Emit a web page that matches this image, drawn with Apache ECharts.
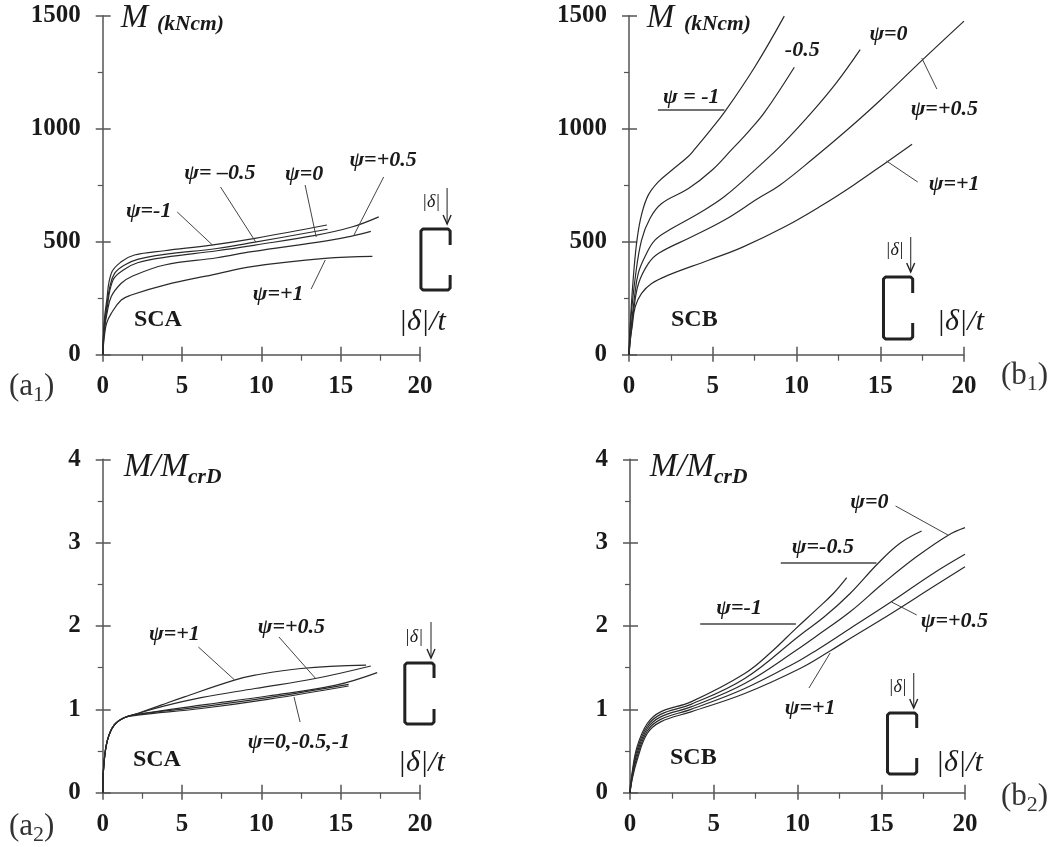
<!DOCTYPE html>
<html><head><meta charset="utf-8">
<script src="https://cdn.jsdelivr.net/npm/echarts@6/dist/echarts.min.js"></script>
<style>html,body{margin:0;padding:0;background:#fff}#main{width:1053px;height:847px}#main canvas{filter:blur(0.35px)}</style>
</head><body><div id="main"></div>
<script>
// Tick labels
var xTicks = [0, 5, 10, 15, 20];
var yTicksTop = [0, 500, 1000, 1500];
var yTicksBottom = [0, 1, 2, 3, 4];

// Panel a1: M (kNcm), SCA
var a1Neg1 = [[0,0],[0.05,90],[0.12,165],[0.23,227],[0.54,360],[1.17,411],[2,441],[3.9,460],[6.85,485],[9.6,515],[14.13,574]];
var a1Neg05 = [[0,0],[0.05,80],[0.12,150],[0.25,215],[0.45,300],[0.75,360],[1.38,397],[2.2,422],[3.9,444],[7.2,470],[9.6,498],[14.17,555]];
var a1Zero = [[0,0],[0.05,70],[0.12,130],[0.25,195],[0.65,330],[1.38,378],[2.2,407],[3.9,431],[7.2,460],[9.6,485],[13.4,528],[15.7,565],[17.4,610]];
var a1Pos05 = [[0,0],[0.05,60],[0.12,115],[0.25,175],[0.54,257],[1.17,316],[1.8,345],[3.9,397],[7.2,429],[9.4,456],[14.1,504],[15.7,525],[16.9,546]];
var a1Pos1 = [[0,0],[0.05,45],[0.12,90],[0.25,140],[0.54,183],[1.17,242],[1.8,264],[3.9,308],[7.2,358],[9.4,390],[14,426],[17,435]];

// Panel b1: M (kNcm), SCB
var b1Neg1 = [[0,0],[0.1,170],[0.3,380],[0.5,520],[0.75,620],[1.15,706],[1.75,765],[2.55,816],[3.55,878],[3.95,912],[4.85,993],[5.7,1073],[7.5,1272],[9.27,1498]];
var b1Neg05 = [[0,0],[0.09,140],[0.38,345],[0.75,507],[1.25,603],[1.95,669],[3.55,735],[4.95,816],[6.1,905],[7.2,993],[8.1,1073],[9.87,1272]];
var b1Zero = [[0,0],[0.1,100],[0.33,256],[0.55,359],[0.95,433],[1.55,507],[2.55,558],[4.15,625],[5.7,700],[7.7,830],[9.2,935],[11,1080],[12.4,1205],[13.8,1350]];
var b1Pos05 = [[0,0],[0.1,80],[0.28,197],[0.57,315],[1.15,403],[1.75,448],[3.75,522],[5.7,596],[7.7,691],[9,750],[11,868],[13,993],[15,1126],[17.6,1310],[20,1476]];
var b1Pos1 = [[0,0],[0.08,70],[0.19,124],[0.37,212],[0.75,271],[1.35,315],[2.35,352],[4.75,418],[6.75,475],[9.3,566],[11.5,660],[13.4,750],[15.4,853],[16.9,931]];

// Panel a2: M/McrD, SCA
var a2Pos1 = [[0,0],[0.08,0.35],[0.3,0.63],[0.72,0.81],[1.35,0.9],[2.2,0.95],[3.67,1.05],[5.15,1.15],[8.3,1.35],[9.6,1.41],[12.5,1.49],[16.6,1.53]];
var a2Pos05 = [[0,0],[0.08,0.35],[0.3,0.63],[0.72,0.81],[1.35,0.9],[2.2,0.95],[3.67,1.03],[6.2,1.14],[9.6,1.25],[13.4,1.37],[16.9,1.52]];
var a2Zero = [[0,0],[0.08,0.35],[0.3,0.63],[0.72,0.81],[1.35,0.9],[2.2,0.94],[6.2,1.05],[10.4,1.16],[14.7,1.29],[17.3,1.44]];
var a2Neg05 = [[0,0],[0.08,0.35],[0.3,0.63],[0.72,0.81],[1.35,0.9],[2.2,0.94],[6.2,1.03],[10.4,1.14],[15.5,1.3]];
var a2Neg1 = [[0,0],[0.08,0.35],[0.3,0.63],[0.72,0.81],[1.35,0.9],[2.2,0.93],[6.2,1.01],[10.4,1.12],[15.5,1.28]];

// Panel b2: M/McrD, SCB
var b2Neg1 = [[0,0],[0.12,0.23],[0.42,0.55],[1.03,0.83],[1.83,0.97],[3.64,1.09],[6.85,1.43],[8.5,1.7],[9.85,1.96],[11.14,2.2],[12.14,2.39],[12.94,2.58]];
var b2Neg05 = [[0,0],[0.12,0.21],[0.42,0.51],[1.03,0.8],[1.83,0.94],[3.64,1.06],[6.85,1.37],[10.15,1.89],[11.6,2.11],[13.14,2.39],[14.8,2.75],[16.1,2.99],[17.41,3.14]];
var b2Zero = [[0,0],[0.12,0.19],[0.42,0.47],[1.03,0.77],[1.83,0.91],[3.64,1.03],[6.85,1.31],[10.15,1.74],[11.14,1.88],[13.14,2.17],[15.1,2.51],[17.1,2.83],[19,3.09],[20,3.18]];
var b2Pos05 = [[0,0],[0.12,0.17],[0.42,0.43],[1.03,0.74],[1.83,0.88],[3.64,1],[6.85,1.25],[10.15,1.59],[11.14,1.71],[13.14,1.97],[15.6,2.29],[18.1,2.63],[20,2.86]];
var b2Pos1 = [[0,0],[0.12,0.15],[0.42,0.39],[1.03,0.71],[1.83,0.85],[3.64,0.97],[6.85,1.19],[10.15,1.49],[11.94,1.7],[13.14,1.85],[15.6,2.15],[18.1,2.47],[20,2.71]];

var SERIF = '"Liberation Serif", serif';
var INK = '#2a2a2a', AXIS = '#555';

var panels = [
  {left:102.7, top:15.7, w:317.3, h:339, yMax:1500, yInt:500, ticks:yTicksTop,
   series:[['ψ=-1',a1Neg1],['ψ=-0.5',a1Neg05],['ψ=0',a1Zero],['ψ=+0.5',a1Pos05],['ψ=+1',a1Pos1]]},
  {left:629, top:15.7, w:335, h:339, yMax:1500, yInt:500, ticks:yTicksTop,
   series:[['ψ=-1',b1Neg1],['ψ=-0.5',b1Neg05],['ψ=0',b1Zero],['ψ=+0.5',b1Pos05],['ψ=+1',b1Pos1]]},
  {left:102.7, top:459.3, w:317.3, h:333.4, yMax:4, yInt:1, ticks:yTicksBottom,
   series:[['ψ=+1',a2Pos1],['ψ=+0.5',a2Pos05],['ψ=0',a2Zero],['ψ=-0.5',a2Neg05],['ψ=-1',a2Neg1]]},
  {left:630, top:459.3, w:335, h:333.4, yMax:4, yInt:1, ticks:yTicksBottom,
   series:[['ψ=-1',b2Neg1],['ψ=-0.5',b2Neg05],['ψ=0',b2Zero],['ψ=+0.5',b2Pos05],['ψ=+1',b2Pos1]]}
];

var grid = [], xAxis = [], yAxis = [], series = [];
panels.forEach(function (p, i) {
  grid.push({left:p.left, top:p.top, width:p.w, height:p.h});
  var line = {show:true, onZero:false, lineStyle:{color:AXIS, width:1.5}};
  var tick = {show:true, lineStyle:{color:AXIS, width:1.5}};
  var labelStyle = {show:true, fontFamily:SERIF, fontWeight:'bold', fontSize:25, color:'#1a1a1a', formatter:function (v) { return String(v); }};
  // primary axes: outside ticks, labels, minor ticks
  xAxis.push({type:'value', gridIndex:i, position:'bottom', min:0, max:20, interval:5, splitLine:{show:false},
    axisLine:line, axisTick:Object.assign({length:7}, tick),
    minorTick:{show:true, splitNumber:2, length:6, lineStyle:{color:AXIS, width:1.2}},
    axisLabel:Object.assign({margin:19, customValues:xTicks}, labelStyle)});
  yAxis.push({type:'value', gridIndex:i, position:'left', min:0, max:p.yMax, interval:p.yInt, splitLine:{show:false},
    axisLine:line, axisTick:Object.assign({length:7}, tick),
    minorTick:{show:true, splitNumber:2, length:5, lineStyle:{color:AXIS, width:1.2}},
    axisLabel:Object.assign({margin:22, customValues:p.ticks}, labelStyle)});
  // overlay axes: the inward half of the crossing major ticks
  xAxis.push({type:'value', gridIndex:i, position:'bottom', min:0, max:20, interval:5, splitLine:{show:false},
    axisLine:{show:false, onZero:false}, axisLabel:{show:false},
    axisTick:Object.assign({length:8, inside:true}, tick)});
  yAxis.push({type:'value', gridIndex:i, position:'left', min:0, max:p.yMax, interval:p.yInt, splitLine:{show:false},
    axisLine:{show:false, onZero:false}, axisLabel:{show:false},
    axisTick:Object.assign({length:8, inside:true}, tick)});
  p.series.forEach(function (s) {
    series.push({type:'line', name:s[0], xAxisIndex:i*2, yAxisIndex:i*2, data:s[1],
      smooth:0.4, showSymbol:false, symbol:'none', clip:false, silent:true,
      lineStyle:{color:INK, width:1.2}});
  });
});

// Annotation helpers (decoration placed on the page, not data)
var g = [];
function sx(x) { return x < 526 ? x * 1.007 : 526 + (x - 526) * 1.007; }
function T(x, y, text, font, extra) {
  g.push({type:'text', silent:true, z:10, style:Object.assign({x:sx(x), y:y, text:text, font:font, fill:'#1a1a1a',
    textAlign:'left', textVerticalAlign:'middle'}, extra || {})});
}
function L(x1, y1, x2, y2, width) {
  g.push({type:'line', silent:true, z:9, shape:{x1:sx(x1), y1:y1, x2:sx(x2), y2:y2},
    style:{stroke:'#444', lineWidth:width || 1}});
}
var PSI = 'italic bold 22px ' + SERIF;
function psi(x, y, text) { T(x, y, text, PSI); }
function scode(x, y, text) { T(x, y, text, 'bold 24px ' + SERIF); }
function ratio(x, y) { T(x, y, '|δ|/t', 'italic 30px ' + SERIF); }
function channel(xl, xr, yt, yb, lipT, lipB) {
  xl = sx(xl); xr = sx(xr);
  g.push({type:'polyline', silent:true, z:9, shape:{points:[[xr,lipT],[xr,yt+2],[xr-2,yt],[xl+2,yt],[xl,yt+2],[xl,yb-2],[xl+2,yb],[xr-2,yb],[xr,yb-2],[xr,lipB]]},
    style:{stroke:'#222', lineWidth:3, fill:null, lineJoin:'round'}});
}
function delta(x, y, ax, y1, y2) {
  T(x, y, '|δ|', 'italic 18px ' + SERIF);
  L(ax, y1, ax, y2, 1.2);
  var a = sx(ax);
  g.push({type:'polyline', silent:true, z:9, shape:{points:[[a-4,y2-9],[a,y2],[a+4,y2-9]]},
    style:{stroke:'#222', lineWidth:1.4, fill:null}});
}
function tag(x, y, letter, sub) {
  g.push({type:'text', silent:true, z:10, style:{x:x, y:y, textAlign:'left', textVerticalAlign:'middle',
    text:'{n|(' + letter + '}{s|' + sub + '}{n|)}',
    rich:{n:{font:'31px ' + SERIF, fill:'#333'}, s:{font:'22px ' + SERIF, fill:'#333', padding:[16,0,0,0]}}}});
}
function headerM(xM, xU, y) {
  T(xM, y, 'M', 'italic 33px ' + SERIF);
  T(xU, y + 6, '(kNcm)', 'italic bold 21.5px ' + SERIF);
}
function headerRatio(x, y) {
  g.push({type:'text', silent:true, z:10, style:{x:sx(x), y:y, textAlign:'left', textVerticalAlign:'middle',
    text:'{n|M/M}{s|crD}',
    rich:{n:{font:'italic 33px ' + SERIF, fill:'#1a1a1a'}, s:{font:'italic bold 21.5px ' + SERIF, fill:'#1a1a1a', padding:[20,0,0,0]}}}});
}

// a1
headerM(120, 156, 18);
psi(125,211,'ψ=-1'); psi(183,173,'ψ= –0.5'); psi(283,174,'ψ=0'); psi(347,160,'ψ=+0.5'); psi(251,294,'ψ=+1');
L(176,212,211,245); L(219,187,254,242); L(303,185,314,237); L(381,177,351,236); L(323,260,309,289);
scode(133,320,'SCA'); ratio(396,322); channel(418,447,229,290,245,275); delta(419,202,444,188,224); tag(9,387,'a','1');
// b1
headerM(646, 683, 18);
psi(662,97,'ψ = -1'); psi(783,50,'-0.5'); psi(867,34,'ψ=0'); psi(908,109,'ψ=+0.5'); psi(926,184,'ψ=+1');
L(657,110,723,110,1.4); L(919,58,934,89); L(884,161,915,182);
scode(670,320,'SCB'); ratio(934,322); channel(881,910,277,339,293,323); delta(883,250,908,237,272); tag(1001,376,'b','1');
// a2
headerRatio(123,467);
psi(148,634,'ψ=+1'); psi(256,627,'ψ=+0.5'); psi(246,742,'ψ=0,-0.5,-1');
L(197,647,233,680); L(277,637,313,678); L(292,697,298,722);
scode(132,760,'SCA'); ratio(395,763); channel(402,431,663,724,678,709); delta(402,637,428,622,658); tag(9,827,'a','2');
// b2
headerRatio(649,467);
psi(848,502,'ψ=0'); psi(790,547,'ψ=-0.5'); psi(715,608,'ψ=-1'); psi(918,621,'ψ=+0.5'); psi(783,708,'ψ=+1');
L(893,506,945,535); L(779,563,874,563,1.4); L(699,624,794,624,1.4); L(889,602,914,615); L(828,653,807,688);
scode(669,758,'SCB'); ratio(933,763); channel(885,914,713,774,728,758); delta(886,687,911,673,708); tag(1001,797,'b','2');

var chart = echarts.init(document.getElementById('main'), null, {renderer:'canvas'});
chart.setOption({backgroundColor:'#fff', animation:false, grid:grid, xAxis:xAxis, yAxis:yAxis, series:series, graphic:g});
</script></body></html>
